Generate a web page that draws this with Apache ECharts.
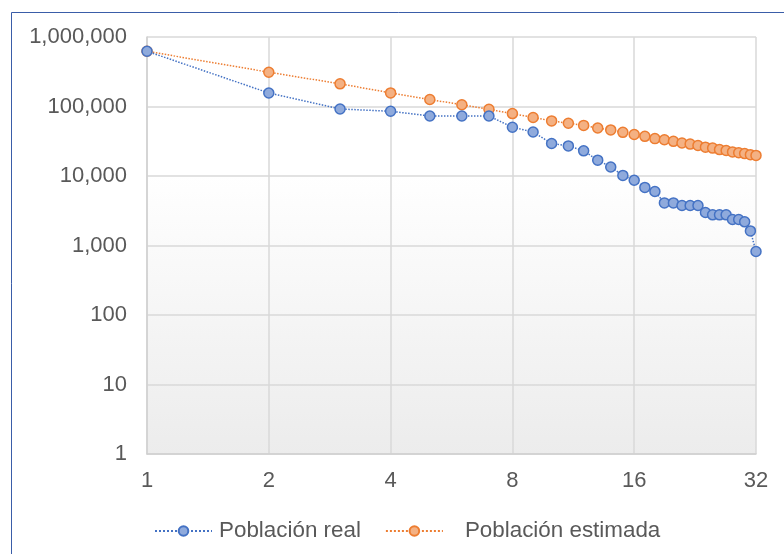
<!DOCTYPE html>
<html>
<head>
<meta charset="utf-8">
<script src="https://cdn.jsdelivr.net/npm/echarts@6/dist/echarts.min.js"></script>
<style>
html,body{margin:0;padding:0;background:#ffffff;}
#chart{width:784px;height:554px;}
</style>
</head>
<body>
<div id="chart"></div>
<script>
// ---- data ----
const ranks = [1,2,3,4,5,6,7,8,9,10,11,12,13,14,15,16,17,18,19,20,21,22,23,24,25,26,27,28,29,30,31,32];
const poblacionReal = [623000,156600,92200,85400,73100,73100,73100,50300,43000,29300,27100,23000,16900,13500,10200,8700,6850,5990,4100,4100,3760,3760,3760,2990,2760,2760,2760,2370,2370,2190,1620,820];
const poblacionEstimada = [623000,311000,212000,157000,126000,106000,91000,79000,69500,62000,57500,53500,49000,46000,42500,39500,37200,34500,33200,31500,29800,28800,27500,26000,25200,24000,23300,22200,21600,21000,20300,19800];
const xTicks = [1,2,4,8,16,32];
const yTicks = [1,10,100,1000,10000,100000,1000000];
const seriesNames = ['Población real','Población estimada'];

const FONT = 'Liberation Sans';
const TXT = '#595959';

function pairs(vals){ return ranks.map((r,i)=>[r, vals[i]]); }
function fmt(v){ return Math.round(v).toString().replace(/\B(?=(\d{3})+(?!\d))/g, ','); }

const chart = echarts.init(document.getElementById('chart'), null, {renderer:'canvas'});
chart.setOption({
  backgroundColor:'#ffffff',
  animation:false,
  graphic:[{
    type:'rect', silent:true, z:-10,
    shape:{x:11.5, y:12.5, width:800, height:600},
    style:{fill:'none', stroke:'#3A5DA8', lineWidth:1}
  }],
  grid:{
    left:147, right:28, top:37, bottom:100,
    show:true, borderWidth:0,
    backgroundColor:{type:'linear', x:0, y:0, x2:0, y2:1,
      colorStops:[{offset:0,color:'#ffffff'},{offset:0.33,color:'#ffffff'},{offset:1,color:'#ececec'}]}
  },
  legend:{
    left:149, top:515,
    itemWidth:57, itemHeight:12, itemGap:24,
    textStyle:{fontFamily:FONT, fontSize:22.4, color:TXT, padding:[0,0,0,2]},
    data:[
      {name:seriesNames[0]},
      {name:seriesNames[1], textStyle:{padding:[0,0,0,17]}}
    ]
  },
  xAxis:{
    type:'log', logBase:2, min:1, max:32,
    axisLine:{show:true, lineStyle:{color:'#d0d0d0', width:1.5}},
    axisTick:{show:false},
    axisLabel:{fontFamily:FONT, fontSize:22, color:TXT, margin:16,
      formatter:function(v){ return xTicks.indexOf(Math.round(v))>=0 ? String(Math.round(v)) : ''; }},
    splitLine:{show:true, lineStyle:{color:'#d9d9d9', width:1.5}},
    minorTick:{show:false}
  },
  yAxis:{
    type:'log', logBase:10, min:1, max:1000000,
    axisLine:{show:true, lineStyle:{color:'#d0d0d0', width:1.5}},
    axisTick:{show:false},
    axisLabel:{fontFamily:FONT, fontSize:22, color:TXT, margin:20,
      formatter:function(v){ return fmt(v); }},
    splitLine:{show:true, lineStyle:{color:'#d9d9d9', width:1.5}}
  },
  series:[
    {
      name:seriesNames[0], type:'line', data:pairs(poblacionReal),
      symbol:'circle', symbolSize:10,
      lineStyle:{color:'#4472C4', width:1.5, type:'dotted'},
      itemStyle:{color:'#8FAADC', borderColor:'#4472C4', borderWidth:1.5},
      z:3
    },
    {
      name:seriesNames[1], type:'line', data:pairs(poblacionEstimada),
      symbol:'circle', symbolSize:10,
      lineStyle:{color:'#ED7D31', width:1.5, type:'dotted'},
      itemStyle:{color:'#F4B183', borderColor:'#ED7D31', borderWidth:1.5},
      z:2
    }
  ]
});
</script>
</body>
</html>
